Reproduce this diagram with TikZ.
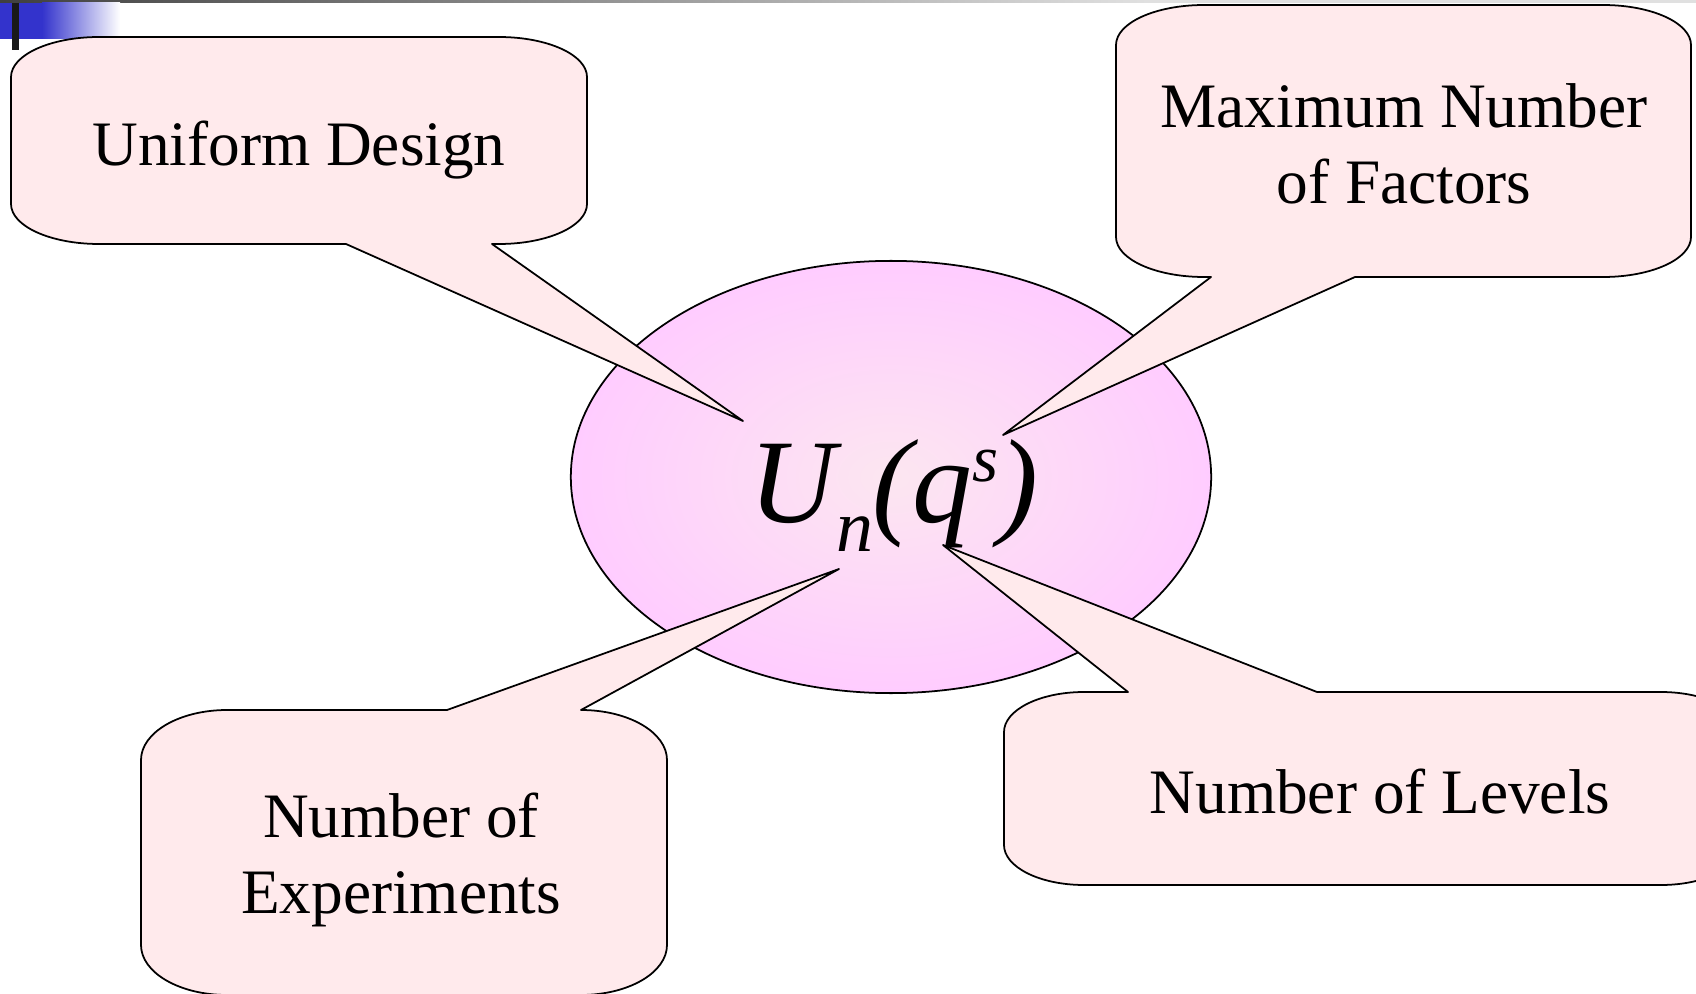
\documentclass[tikz,border=0pt]{standalone}
\usepackage{fontspec}
\setmainfont{Liberation Serif}
\usetikzlibrary{shapes.geometric}
\definecolor{fukidashi}{RGB}{255,234,236}
\definecolor{daenSoto}{RGB}{255,204,255}
\definecolor{daenNaka}{RGB}{252,230,240}
\definecolor{aoi}{RGB}{51,51,204}

\begin{document}
\begin{tikzpicture}[x= 0.01cm, y= 0.01cm,
	balloon/.style= {draw, fill= fukidashi, line width= 0.5pt, line join= round},
	balloontext/.style= {font= \fontsize{18}{21.5}\selectfont, align= center, inner sep= 0pt}]
	\useasboundingbox(0, 0) rectangle (1696, 993);
	\clip(0, 0) rectangle (1696, 993);
% 上端の飾り
	\shade[left color= black!75, right color= black!12](0, 990) rectangle (1150, 993);
	\fill[black!12](1150, 990) rectangle (1696, 993);
	\fill[aoi](0, 954) rectangle (42, 990);
	\shade[left color= aoi, right color= white](42, 954) rectangle (120, 990);
	\fill[black!90](12, 943) rectangle (19, 990); %縦棒
% 中央の楕円
	\node[ellipse, draw, line width= 0.5pt, inner color= daenNaka, outer color= daenSoto,
		minimum width= 6.4cm, minimum height= 4.32cm] (daen) at (891, 516) {};
% 左上の吹き出し
	\draw[balloon, x radius= 88, y radius= 40](346, 749)-- (743, 572)-- (492, 749)-- (499, 749)
		arc[start angle= 270, end angle= 360]-- (587, 916)
		arc[start angle= 0, end angle= 90]-- (99, 956)
		arc[start angle= 90, end angle= 180]-- (11, 789)
		arc[start angle= 180, end angle= 270]-- cycle;
% 右上の吹き出し
	\draw[balloon, x radius= 88, y radius= 40](1211, 716)-- (1003, 558)-- (1355, 716)-- (1603, 716)
		arc[start angle= 270, end angle= 360]-- (1691, 948)
		arc[start angle= 0, end angle= 90]-- (1204, 988)
		arc[start angle= 90, end angle= 180]-- (1116, 756)
		arc[start angle= 180, end angle= 270]-- cycle;
% 左下の吹き出し
	\draw[balloon, x radius= 86, y radius= 50](447, 283)-- (839, 424)-- (581, 283)
		arc[start angle= 90, end angle= 0]-- (667, 48)
		arc[start angle= 0, end angle= -90]-- (227, -2)
		arc[start angle= 270, end angle= 180]-- (141, 233)
		arc[start angle= 180, end angle= 90]-- cycle;
% 右下の吹き出し
	\draw[balloon, x radius= 80, y radius= 40](1128, 301)-- (943, 448)-- (1317, 301)-- (1661, 301)
		arc[start angle= 90, end angle= 0]-- (1741, 148)
		arc[start angle= 0, end angle= -90]-- (1084, 108)
		arc[start angle= 270, end angle= 180]-- (1004, 261)
		arc[start angle= 180, end angle= 90]-- cycle;
% 文字
	\node[balloontext, anchor= base] (ud) at (299, 827) {Uniform Design};
	\node[balloontext] (mnf) at (1404, 849) {Maximum Number\\of Factors};
	\node[balloontext] (ne) at (401, 133) {Number of\\Experiments};
	\node[balloontext, anchor= base] (nl) at (1380, 180) {Number of Levels};
	\node[anchor= base west, inner sep= 0pt] (un) at (749, 471)
		{\fontsize{34}{40}\selectfont\itshape U\raisebox{-8.4pt}{\fontsize{21}{21}\selectfont n}(q\raisebox{11.5pt}{\fontsize{19}{19}\selectfont s})};
\end{tikzpicture}
\end{document}
